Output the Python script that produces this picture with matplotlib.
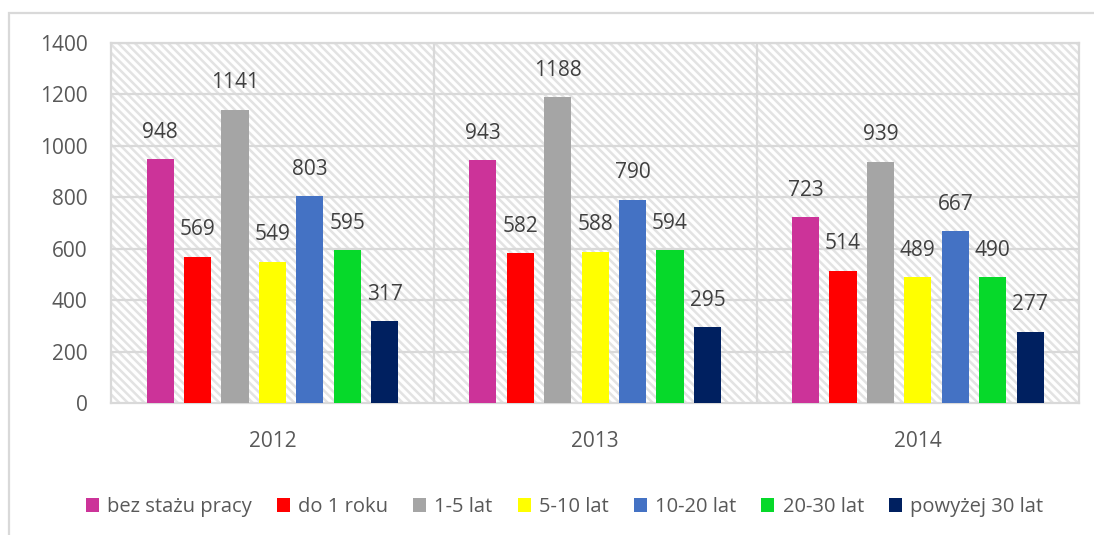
import matplotlib
matplotlib.use("Agg")
import matplotlib.pyplot as plt
from matplotlib.patches import Rectangle, Patch
import numpy as np

years = ["2012", "2013", "2014"]
groups = ["bez stażu pracy", "do 1 roku", "1-5 lat", "5-10 lat",
          "10-20 lat", "20-30 lat", "powyżej 30 lat"]
values = {
    "bez stażu pracy": [948, 943, 723],
    "do 1 roku": [569, 582, 514],
    "1-5 lat": [1141, 1188, 939],
    "5-10 lat": [549, 588, 489],
    "10-20 lat": [803, 790, 667],
    "20-30 lat": [595, 594, 490],
    "powyżej 30 lat": [317, 295, 277],
}
colors = ["#CC3399", "#FF0000", "#A5A5A5", "#FFFF00", "#4472C4", "#06D92A", "#002060"]
yticks = [0, 200, 400, 600, 800, 1000, 1200, 1400]

plt.rcParams['font.family'] = ['Open Sans', 'DejaVu Sans']
plt.rcParams['hatch.color'] = '#e3e3e3'
plt.rcParams['hatch.linewidth'] = 1.8
txt = '#595959'
grid = '#d9d9d9'

fig = plt.figure(figsize=(10.94, 5.35), dpi=100)
ax = fig.add_axes([0.1015, 0.2467, 0.885, 0.673])

# outer chart border
fig.patches.append(Rectangle((9 / 1094, -0.1), 1.2, 1.1 - 13 / 535, transform=fig.transFigure,
                             fill=False, edgecolor=grid, linewidth=1.6, zorder=0))

ax.set_xlim(-0.5, len(years) - 0.5)
ax.set_ylim(0, 1400)

# hatched plot background
ax.add_patch(Rectangle((0, 0), 1, 1, transform=ax.transAxes, facecolor='white',
                       hatch='\\\\\\\\', edgecolor='#e3e3e3', linewidth=0, zorder=0))

for y in yticks[1:]:
    ax.axhline(y, color=grid, linewidth=1.6, zorder=1)
for xb in [0.5, 1.5]:
    ax.axvline(xb, color=grid, linewidth=1.6, zorder=1)

x = np.arange(len(years))
step = 0.116
width = 0.084
for i, (g, c) in enumerate(zip(groups, colors)):
    pos = x + (i - 3) * step
    bars = ax.bar(pos, values[g], width=width, color=c, zorder=3)
    for b, v in zip(bars, values[g]):
        ax.text(b.get_x() + b.get_width() / 2, v + 64, str(v), ha='center', va='bottom',
                fontsize=15, color='#404040', zorder=4)

ax.set_yticks(yticks)
ax.set_xticks(x)
ax.set_xticklabels(years)
ax.tick_params(axis='y', length=0, pad=17, labelsize=15, labelcolor=txt)
ax.tick_params(axis='x', length=0, pad=20, labelsize=15, labelcolor=txt)
for s in ax.spines.values():
    s.set_color(grid)
    s.set_linewidth(1.6)

handles = [Patch(facecolor=c, edgecolor='none', label=g) for g, c in zip(groups, colors)]
leg = fig.legend(handles=handles, loc='center', bbox_to_anchor=(0.516, 1 - 507 / 535), ncol=7,
                 frameon=False, fontsize=14.5, handlelength=0.65, handleheight=0.65,
                 handletextpad=0.4, columnspacing=1.25)
for t in leg.get_texts():
    t.set_color(txt)

fig.savefig("out.png", dpi=100)
